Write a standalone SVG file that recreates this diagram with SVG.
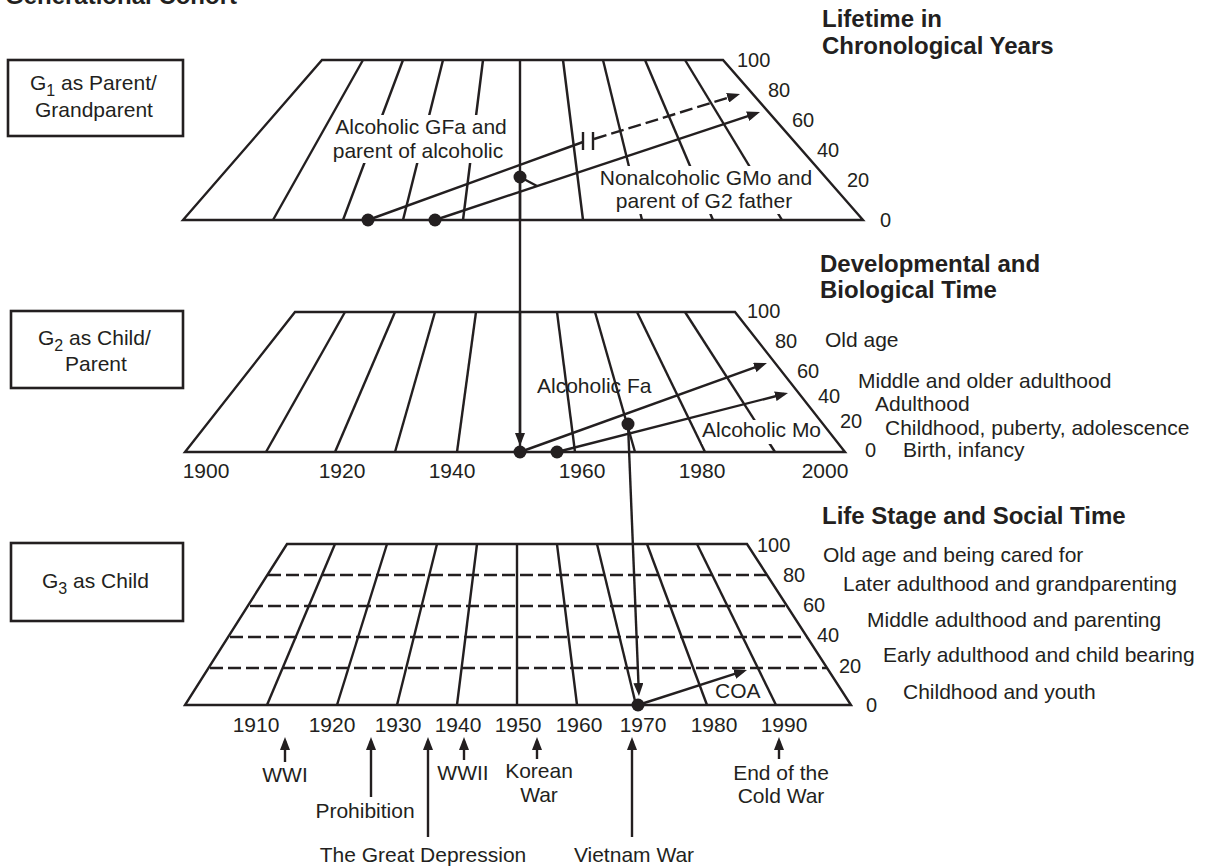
<svg xmlns="http://www.w3.org/2000/svg" width="1209" height="867" viewBox="0 0 1209 867">
  <defs>
    <style>
      .ln { stroke: #231f20; stroke-width: 2.4; fill: none; }
      .dsh { stroke-dasharray: 13 5; }
      .box { fill: #fff; stroke: #231f20; stroke-width: 2.6; }
      .mask { fill: #fff; stroke: none; }
      .dot { fill: #231f20; }
      text { font-family: "Liberation Sans", Arial, Helvetica, sans-serif; font-size: 21px; fill: #231f20; }
      .num { font-size: 20px; }
      .hd { font-size: 24px; font-weight: bold; }
      .mid { text-anchor: middle; }
      .sub { font-size: 16px; }
    </style>
    <marker id="ah" viewBox="0 0 13 10" refX="9" refY="5" markerWidth="13" markerHeight="10" markerUnits="userSpaceOnUse" orient="auto">
      <path d="M0,0 L13,5 L0,10 z" fill="#231f20"/>
    </marker>
  </defs>

  <rect width="1209" height="867" fill="#fff"/>

  <!-- headings -->
  <g id="headings">
    <text class="hd" x="5" y="3.5">Generational Cohort</text>
    <text class="hd" x="822" y="27">Lifetime in</text>
    <text class="hd" x="822" y="54">Chronological Years</text>
    <text class="hd" x="820" y="272">Developmental and</text>
    <text class="hd" x="820" y="298">Biological Time</text>
    <text class="hd" x="822" y="524">Life Stage and Social Time</text>
  </g>

  <!-- generation boxes -->
  <g id="box-g1">
    <rect class="box" x="8" y="60" width="175" height="76"/>
    <text x="30" y="90">G<tspan class="sub" dy="6">1</tspan><tspan dy="-6"> as Parent/</tspan></text>
    <text x="35" y="117">Grandparent</text>
  </g>
  <g id="box-g2">
    <rect class="box" x="11" y="311" width="172" height="77"/>
    <text x="38" y="345">G<tspan class="sub" dy="6">2</tspan><tspan dy="-6"> as Child/</tspan></text>
    <text x="65" y="371">Parent</text>
  </g>
  <g id="box-g3">
    <rect class="box" x="11" y="543" width="172" height="78"/>
    <text x="42" y="588">G<tspan class="sub" dy="6">3</tspan><tspan dy="-6"> as Child</tspan></text>
  </g>

  <!-- plane 1: lifetime in chronological years -->
  <g id="plane-chronological">
    <g class="ln">
      <line x1="363" y1="60" x2="273" y2="220"/>
      <line x1="403" y1="60" x2="343" y2="220"/>
      <line x1="443" y1="60" x2="403" y2="220"/>
      <line x1="483" y1="60" x2="463" y2="220"/>
      <line x1="520" y1="60" x2="520" y2="220"/>
      <line x1="563" y1="60" x2="583" y2="220"/>
      <line x1="603" y1="60" x2="642" y2="220"/>
      <line x1="645" y1="60" x2="713" y2="220"/>
      <line x1="685" y1="60" x2="782" y2="220"/>
    </g>
    <rect class="mask" x="334" y="115" width="175" height="48"/>
    <rect class="mask" x="596" y="166" width="221" height="48"/>
    <polygon class="ln" points="322,60 723,60 863,220 183,220"/>
    <text class="mid" x="421" y="134">Alcoholic GFa and</text>
    <text class="mid" x="418" y="158">parent of alcoholic</text>
    <text class="mid" x="706" y="185">Nonalcoholic GMo and</text>
    <text class="mid" x="704" y="208">parent of G2 father</text>
    <text class="num" x="737" y="67">100</text>
    <text class="num" x="768" y="97">80</text>
    <text class="num" x="792" y="127">60</text>
    <text class="num" x="817" y="157">40</text>
    <text class="num" x="847" y="187">20</text>
    <text class="num" x="880" y="227">0</text>
  </g>

  <!-- plane 2: developmental and biological time -->
  <g id="plane-developmental">
    <g class="ln">
      <line x1="345" y1="312" x2="266" y2="452"/>
      <line x1="395" y1="312" x2="335" y2="452"/>
      <line x1="435" y1="312" x2="395" y2="452"/>
      <line x1="476" y1="312" x2="457" y2="452"/>
      <line x1="520" y1="312" x2="520" y2="452"/>
      <line x1="557" y1="312" x2="575" y2="452"/>
      <line x1="595" y1="312" x2="635" y2="452"/>
      <line x1="637" y1="312" x2="705" y2="452"/>
      <line x1="685" y1="312" x2="775" y2="452"/>
    </g>
    <rect class="mask" x="702" y="420" width="121" height="24"/>
    <polygon class="ln" points="295,312 735,312 845,452 185,452"/>
    <text x="537" y="393">Alcoholic Fa</text>
    <text x="702" y="437">Alcoholic Mo</text>
    <text class="num" x="747" y="318">100</text>
    <text class="num" x="775" y="348">80</text>
    <text class="num" x="797" y="378">60</text>
    <text class="num" x="818" y="403">40</text>
    <text class="num" x="840" y="428">20</text>
    <text class="num" x="865" y="457">0</text>
    <text x="825" y="347">Old age</text>
    <text x="858" y="388">Middle and older adulthood</text>
    <text x="875" y="411">Adulthood</text>
    <text x="885" y="435">Childhood, puberty, adolescence</text>
    <text x="903" y="457">Birth, infancy</text>
    <g class="num mid">
      <text x="206" y="478">1900</text>
      <text x="342" y="478">1920</text>
      <text x="452" y="478">1940</text>
      <text x="582" y="478">1960</text>
      <text x="702" y="478">1980</text>
      <text x="825" y="478">2000</text>
    </g>
  </g>

  <!-- plane 3: life stage and social time -->
  <g id="plane-social">
    <g class="ln">
      <line x1="335" y1="544" x2="267" y2="705"/>
      <line x1="387" y1="544" x2="337" y2="705"/>
      <line x1="437" y1="544" x2="397" y2="705"/>
      <line x1="477" y1="544" x2="457" y2="705"/>
      <line x1="517" y1="544" x2="517" y2="705"/>
      <line x1="557" y1="544" x2="577" y2="705"/>
      <line x1="597" y1="544" x2="636" y2="705"/>
      <line x1="647" y1="544" x2="707" y2="705"/>
      <line x1="697" y1="544" x2="776" y2="705"/>
    </g>
    <g class="ln dsh">
      <line x1="268" y1="575" x2="767" y2="575"/>
      <line x1="250" y1="606" x2="787" y2="606"/>
      <line x1="230" y1="637" x2="807" y2="637"/>
      <line x1="210" y1="668" x2="827" y2="668"/>
    </g>
    <polygon class="ln" points="287,544 747,544 851,705 185,705"/>
    <text x="715" y="698">COA</text>
    <text class="num" x="757" y="552">100</text>
    <text class="num" x="783" y="582">80</text>
    <text class="num" x="803" y="612">60</text>
    <text class="num" x="817" y="642">40</text>
    <text class="num" x="839" y="673">20</text>
    <text class="num" x="866" y="712">0</text>
    <text x="823" y="562">Old age and being cared for</text>
    <text x="843" y="591">Later adulthood and grandparenting</text>
    <text x="867" y="627">Middle adulthood and parenting</text>
    <text x="883" y="662">Early adulthood and child bearing</text>
    <text x="903" y="699">Childhood and youth</text>
    <g class="num mid">
      <text x="256" y="732">1910</text>
      <text x="332" y="732">1920</text>
      <text x="398" y="732">1930</text>
      <text x="458" y="732">1940</text>
      <text x="518" y="732">1950</text>
      <text x="579" y="732">1960</text>
      <text x="643" y="732">1970</text>
      <text x="714" y="732">1980</text>
      <text x="784" y="732">1990</text>
    </g>
  </g>

  <!-- historical events under the timeline -->
  <g id="events">
    <g class="ln" marker-end="url(#ah)">
      <line x1="285" y1="762" x2="285" y2="741"/>
      <line x1="371" y1="797" x2="371" y2="741"/>
      <line x1="428" y1="837" x2="428" y2="741"/>
      <line x1="464" y1="760" x2="464" y2="741"/>
      <line x1="537" y1="759" x2="537" y2="741"/>
      <line x1="632" y1="837" x2="632" y2="741"/>
      <line x1="779" y1="759" x2="779" y2="741"/>
    </g>
    <g class="mid">
      <text x="285" y="782">WWI</text>
      <text x="365" y="818">Prohibition</text>
      <text x="423" y="862">The Great Depression</text>
      <text x="463" y="780">WWII</text>
      <text x="539" y="778">Korean</text>
      <text x="539" y="802">War</text>
      <text x="634" y="862">Vietnam War</text>
      <text x="781" y="780">End of the</text>
      <text x="781" y="803">Cold War</text>
    </g>
  </g>

  <!-- life-course trajectories and links between generations -->
  <g id="connectors">
    <g class="ln">
      <!-- G1 grandfather: line broken off, then dashed -->
      <line x1="368" y1="220" x2="583" y2="142"/>
      <line x1="583" y1="132" x2="583" y2="150"/>
      <line x1="593" y1="132" x2="593" y2="150"/>
      <line class="dsh" x1="594" y1="139" x2="736.2" y2="95.2" marker-end="url(#ah)"/>
      <!-- G1 grandmother -->
      <line x1="435" y1="220" x2="756.2" y2="113.3" marker-end="url(#ah)"/>
      <line x1="520" y1="177" x2="537" y2="186"/>
      <!-- G1 to G2 -->
      <line x1="520" y1="177" x2="520" y2="442" marker-end="url(#ah)"/>
      <!-- G2 father and mother -->
      <line x1="520" y1="452" x2="763.2" y2="364.4" marker-end="url(#ah)"/>
      <line x1="557" y1="452" x2="784.1" y2="394" marker-end="url(#ah)"/>
      <!-- G2 to G3 -->
      <line x1="628" y1="424" x2="638.8" y2="692" marker-end="url(#ah)"/>
      <!-- G3 child of alcoholic -->
      <line x1="638" y1="705" x2="743.2" y2="671.2" marker-end="url(#ah)"/>
    </g>
    <circle class="dot" cx="368" cy="220" r="6.5"/>
    <circle class="dot" cx="435" cy="220" r="6.5"/>
    <circle class="dot" cx="520" cy="177" r="6.5"/>
    <circle class="dot" cx="520" cy="452" r="6.5"/>
    <circle class="dot" cx="557" cy="452" r="6.5"/>
    <circle class="dot" cx="628" cy="424" r="6.5"/>
    <circle class="dot" cx="638" cy="705" r="6.5"/>
  </g>
</svg>
